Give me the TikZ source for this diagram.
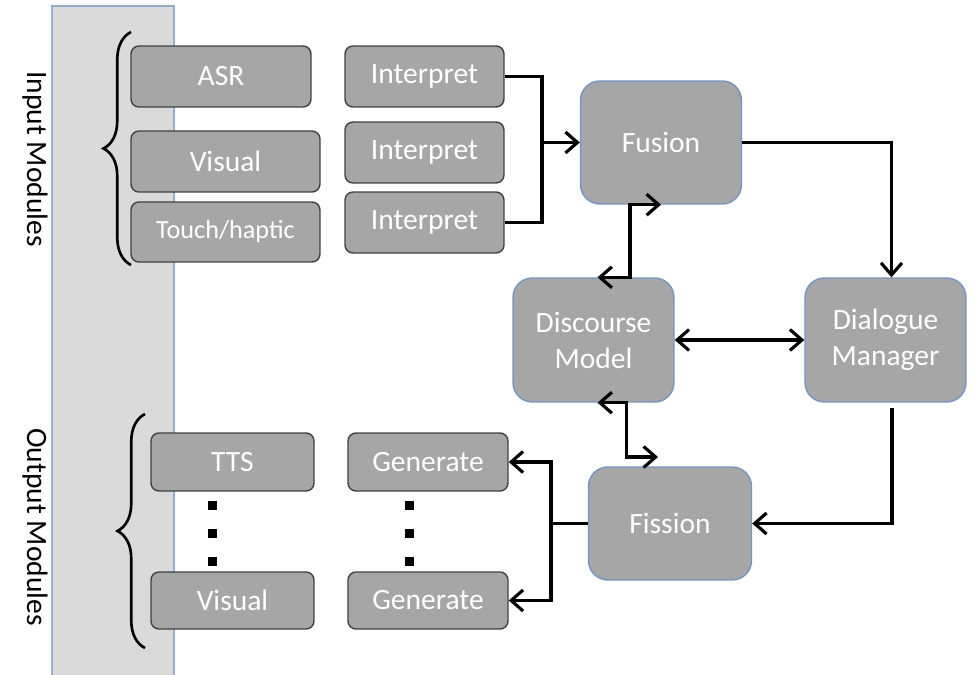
\documentclass[tikz,border=0pt]{standalone}
\usepackage{fontspec}
\setmainfont{Carlito}
\usetikzlibrary{arrows.meta,calc,decorations.pathreplacing}

\definecolor{boxgray}{HTML}{A6A6A6}
\definecolor{boxedge}{HTML}{404040}
\definecolor{coreedge}{HTML}{6F95CC}
\definecolor{bandgray}{HTML}{DADADA}
\definecolor{bandedge}{HTML}{8EAEDB}

\tikzset{
  module/.style={draw=boxedge, fill=boxgray, rounded corners=4.5pt, line width=0.8pt,
    text=white, font=\fontsize{16.8}{20.5}\selectfont, inner sep=0pt},
  core/.style={draw=coreedge, fill=boxgray, rounded corners=11pt, line width=0.8pt,
    text=white, font=\fontsize{16.8}{20.5}\selectfont, align=center, inner sep=0pt,
    minimum width=3.22cm, minimum height=2.46cm},
  barb/.tip={Straight Barb[length=2.4mm,width=4.2mm,line width=1.8pt]},
  link/.style={line width=1.9pt, -barb},
  twolink/.style={line width=1.9pt, barb-barb},
  plain/.style={line width=1.9pt},
  curly/.style={decorate, decoration={brace, amplitude=0.55cm}, line width=1.5pt}
}

\begin{document}
\begin{tikzpicture}[x=0.02cm, y=-0.02cm]
  \useasboundingbox (0,0) rectangle (978,675);

  % Band behind the modules
  \draw[fill=bandgray, draw=bandedge, line width=0.6pt] (52,6) rectangle (174,690);
  \node[rotate=-90, font=\fontsize{16.8}{20.5}\selectfont] (inlabel) at (35,159) {Input Modules};
  \node[rotate=-90, font=\fontsize{16.8}{20.5}\selectfont] (outlabel) at (35,527) {Output Modules};

  \draw[curly] (131,265) -- (131,32);
  \draw[curly] (145,648) -- (145,414);

  % Input side
  \node[module, minimum width=3.6cm, minimum height=1.22cm] (asr) at (221,76.5) {ASR};
  \node[module, minimum width=3.78cm, minimum height=1.22cm] (visin) at (225.5,161.5) {Visual};
  \node[module, minimum width=3.78cm, minimum height=1.2cm,
        font=\fontsize{14.9}{18}\selectfont] (touch) at (225.5,232) {Touch/haptic};

  \node[module, minimum width=3.18cm, minimum height=1.22cm] (intA) at (424.5,76.5) {Interpret};
  \node[module, minimum width=3.18cm, minimum height=1.22cm] (intB) at (424.5,152.5) {Interpret};
  \node[module, minimum width=3.18cm, minimum height=1.22cm] (intC) at (424.5,222.5) {Interpret};

  % Core
  \node[core] (fusion) at (661,142.5) {Fusion};
  \node[core, minimum height=2.48cm] (discourse) at (593.5,340) {Discourse\\Model};
  \node[core, minimum height=2.48cm] (dialogue) at (885.5,340) {Dialogue\\Manager};
  \node[core, minimum width=3.26cm, minimum height=2.26cm] (fission) at (670,523.5) {Fission};

  % Output side
  \node[module, minimum width=3.26cm, minimum height=1.16cm] (tts) at (232.5,462) {TTS};
  \node[module, minimum width=3.26cm, minimum height=1.14cm] (visout) at (232.5,600.5) {Visual};
  \node[module, minimum width=3.2cm, minimum height=1.16cm] (genA) at (428,462) {Generate};
  \node[module, minimum width=3.2cm, minimum height=1.14cm] (genB) at (428,600.5) {Generate};

  \foreach \px in {212,409}
    \foreach \py in {506,534,562}
      \fill (\px-4.5,\py-4.5) rectangle (\px+4.5,\py+4.5);

  % Connectors
  \coordinate (join) at (542,142.5);
  \draw[plain] (intA.east) -| (join);
  \draw[plain] (intC.east) -| (join);
  \draw[link] (join) -- (fusion.west);

  \draw[twolink] (fusion.south) -- ++(-31,0) |- ($(discourse.north)+(4,0)$);
  \draw[link] (fusion.east) -| ($(dialogue.north)+(6,0)$);
  \draw[twolink] (discourse.east) -- (dialogue.west);

  \coordinate (fisIn) at (658,457);
  \draw[twolink] ($(discourse.south)+(4,0)$) -- ++(29,0) |- (fisIn);

  \coordinate (dmOut) at (892,408);
  \draw[link] (dmOut) |- (fission.east);

  \coordinate (split) at (551,523.5);
  \draw[plain] (fission.west) -- (split);
  \draw[link] (split) |- (genA.east);
  \draw[link] (split) |- (genB.east);
\end{tikzpicture}
\end{document}
